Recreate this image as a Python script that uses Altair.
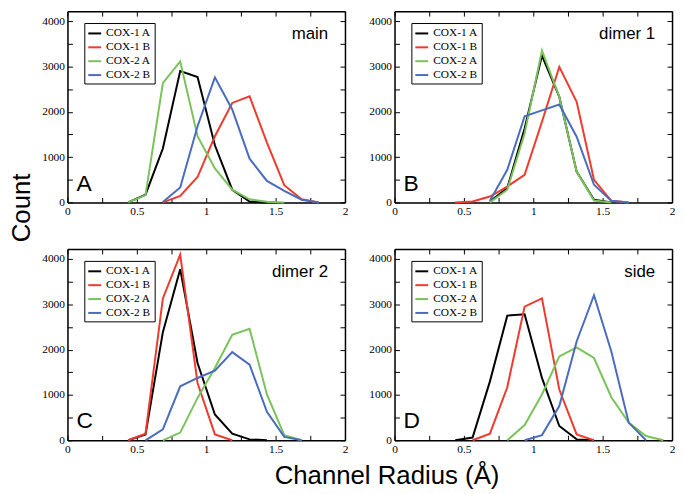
import altair as alt
import pandas as pd

# ---------------- data ----------------
radius = [0.4375, 0.5625, 0.6875, 0.8125, 0.9375, 1.0625, 1.1875,
          1.3125, 1.4375, 1.5625, 1.6875, 1.8125, 1.9375]
series = ["COX-1 A", "COX-1 B", "COX-2 A", "COX-2 B"]
colors = ["#000000", "#ee3b2c", "#7ac35b", "#4a6cbf"]
panel_names = ["main", "dimer 1", "dimer 2", "side"]
panel_letters = ["A", "B", "C", "D"]
N = None

# panel A (main)
a_cox1a = [0, 170, 1190, 2900, 2765, 1260, 280, 20, 0, N, N, N, N]
a_cox1b = [N, N, 0, 145, 560, 1460, 2195, 2340, 1320, 380, 70, 0, N]
a_cox2a = [0, 160, 2630, 3110, 1460, 750, 280, 70, 15, 0, N, N, N]
a_cox2b = [N, N, 10, 330, 1680, 2760, 2050, 965, 475, 255, 60, 0, N]
# panel B (dimer 1)
b_cox1a = [N, N, 20, 315, 1630, 3240, 2330, 680, 60, 0, N, N, N]
b_cox1b = [0, 20, 130, 350, 610, 1780, 2990, 2220, 500, 35, 0, N, N]
b_cox2a = [N, N, 0, 280, 1520, 3350, 2330, 680, 40, 0, N, N, N]
b_cox2b = [N, N, 35, 720, 1900, 2030, 2160, 1450, 390, 35, 0, N, N]
# panel C (dimer 2)
c_cox1a = [0, 130, 2385, 3775, 1705, 570, 145, 20, 0, N, N, N, N]
c_cox1b = [0, 145, 3130, 4095, 1265, 130, 0, N, N, N, N, N, N]
c_cox2a = [N, N, 0, 170, 935, 1595, 2325, 2460, 1010, 115, 0, N, N]
c_cox2b = [N, 0, 240, 1190, 1375, 1535, 1945, 1670, 630, 75, 0, N, N]
# panel D (side)
d_cox1a = [0, 60, 1300, 2750, 2780, 1375, 315, 20, 0, N, N, N, N]
d_cox1b = [N, 0, 145, 1170, 2950, 3130, 1120, 130, 0, N, N, N, N]
d_cox2a = [N, N, N, 0, 335, 1010, 1850, 2050, 1815, 950, 390, 95, 0]
d_cox2b = [N, N, N, N, 0, 115, 755, 2180, 3200, 1960, 390, 0, N]

panels = [
    [a_cox1a, a_cox1b, a_cox2a, a_cox2b],
    [b_cox1a, b_cox1b, b_cox2a, b_cox2b],
    [c_cox1a, c_cox1b, c_cox2a, c_cox2b],
    [d_cox1a, d_cox1b, d_cox2a, d_cox2b],
]

x_ticks = [0, 0.25, 0.5, 0.75, 1, 1.25, 1.5, 1.75, 2]
y_ticks = [0, 500, 1000, 1500, 2000, 2500, 3000, 3500, 4000]

# ---------------- style ----------------
W, H = 280, 193
SERIF = "Liberation Serif"
SANS = "Liberation Sans"
TICK = {"expr": "-5"}


def axis_common(orient, labels, values, label_expr):
    kw = dict(orient=orient, values=values, title=None, tickSize=TICK,
              tickColor="black", tickWidth=1, domain=True,
              domainColor="black", domainWidth=1.5, grid=False,
              labels=labels)
    if labels:
        kw.update(labelExpr=label_expr, labelFont=SERIF, labelFontSize=11.5,
                  labelColor="black", labelPadding=8, labelFlush=False,
                  labelOverlap=False, labelBound=False)
    return alt.Axis(**kw)


x_expr = "(datum.value * 2) % 1 === 0 ? '' + datum.value : ''"
y_expr = "datum.value % 1000 === 0 ? '' + datum.value : ''"


def make_panel(i):
    rows = []
    for s, vals in zip(series, panels[i]):
        for r, v in zip(radius, vals):
            if v is not None:
                rows.append({"radius": r, "count": v, "series": s})
    df = pd.DataFrame(rows)
    xs = alt.Scale(domain=[0, 2], nice=False, zero=False)
    ys = alt.Scale(domain=[0, 4220], nice=False)

    lines = alt.Chart(df).mark_line(strokeWidth=2).encode(
        x=alt.X("radius:Q", scale=xs,
                axis=axis_common("bottom", True, x_ticks, x_expr)),
        y=alt.Y("count:Q", scale=ys,
                axis=axis_common("left", True, y_ticks, y_expr)),
        color=alt.Color("series:N",
                        scale=alt.Scale(domain=series, range=colors),
                        legend=alt.Legend(
                            title=None, orient="none", legendX=17, legendY=12,
                            strokeColor="black", fillColor="white",
                            padding=3, symbolType="stroke",
                            symbolStrokeWidth=2, symbolSize=169,
                            labelFont=SERIF, labelFontSize=11.5,
                            labelColor="black", rowPadding=1, labelOffset=4)),
    )
    mirror = alt.Chart(df).mark_line(strokeOpacity=0).encode(
        x=alt.X("radius:Q", scale=xs,
                axis=axis_common("top", False, x_ticks, x_expr)),
        y=alt.Y("count:Q", scale=ys,
                axis=axis_common("right", False, y_ticks, y_expr)),
        detail="series:N",
    )
    name = alt.Chart(pd.DataFrame({"t": [panel_names[i]]})).mark_text(
        align="right", baseline="alphabetic", font=SANS, fontSize=17,
        color="black").encode(x=alt.value(W - 17), y=alt.value(28), text="t:N")
    letter = alt.Chart(pd.DataFrame({"t": [panel_letters[i]]})).mark_text(
        align="left", baseline="alphabetic", font=SANS, fontSize=23,
        color="black").encode(x=alt.value(9), y=alt.value(H - 12), text="t:N")
    return alt.layer(lines, mirror, name, letter).resolve_axis(
        x="independent", y="independent").properties(width=W, height=H)


pA, pB, pC, pD = [make_panel(i) for i in range(4)]

grid = alt.concat(
    pA, pB, pC, pD, columns=2, spacing={"row": 47, "column": 50},
    bounds="flush",
    title=alt.TitleParams("Count", orient="left", anchor="middle", font=SANS,
                          fontSize=26, fontWeight="normal", color="black",
                          offset=6, dx=25),
).resolve_scale(color="independent").resolve_legend(color="independent")

chart = alt.vconcat(
    grid,
    title=alt.TitleParams("Channel Radius (Å)", orient="bottom",
                          anchor="middle", font=SANS, fontSize=26,
                          fontWeight="normal", color="black", offset=8, dx=45),
).resolve_scale(color="independent").resolve_legend(
    color="independent").configure_view(stroke=None).configure(
    padding={"left": 1, "top": 0, "right": 0, "bottom": 0},
    background="white")

chart.save("out.html", embed_options={"renderer": "svg", "actions": False})
